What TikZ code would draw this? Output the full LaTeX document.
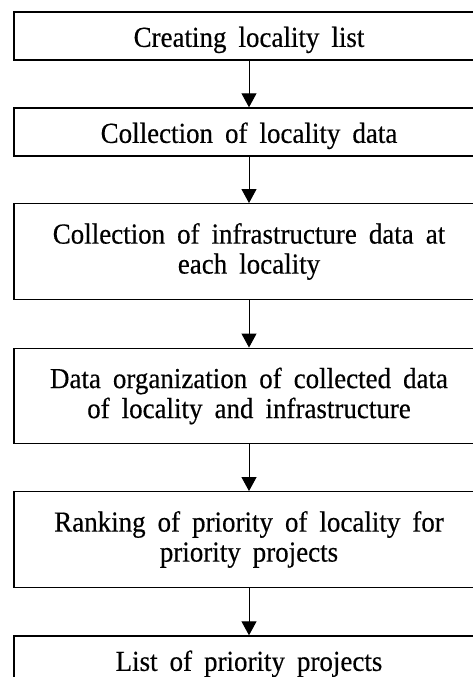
\documentclass[tikz,border=0pt]{standalone}
\usepackage{fontspec}
\setmainfont[FakeStretch=0.93,FakeBold=0.4]{Liberation Serif}
\usetikzlibrary{arrows.meta}
\newcommand{\boxfont}{\fontsize{29pt}{30pt}\selectfont\spaceskip=12pt plus 1pt minus 1pt\relax}
\newcommand{\topstrut}{\rule{0pt}{28pt}}
\begin{document}
\begin{tikzpicture}[x=1pt,y=-1pt,
  stepbox/.style={draw, line width=1.4pt, rectangle, minimum width=470pt, align=center,
    inner sep=0pt, font=\boxfont, execute at begin node=\topstrut},
  onebox/.style={stepbox, minimum height=48pt},
  twobox/.style={stepbox, minimum height=95.5pt},
  flow/.style={line width=1pt, -{Triangle[width=15pt,length=14pt]}}]
\useasboundingbox (0,0) rectangle (473,677);
\clip (0,0) rectangle (473,677);
\node[onebox] (b1) at (249,36) {Creating locality list};
\node[onebox] (b2) at (249,132) {Collection of locality data};
\node[twobox] (b3) at (249,251.5) {Collection of infrastructure data at\\each locality};
\node[twobox] (b4) at (249,396) {Data organization of collected data\\of locality and infrastructure};
\node[twobox] (b5) at (249,539.5) {Ranking of priority of locality for\\priority projects};
\node[onebox] (b6) at (249,660) {List of priority projects};
\draw[flow] (b1) -- (b2);
\draw[flow] (b2) -- (b3);
\draw[flow] (b3) -- (b4);
\draw[flow] (b4) -- (b5);
\draw[flow] (b5) -- (b6);
\end{tikzpicture}
\end{document}
